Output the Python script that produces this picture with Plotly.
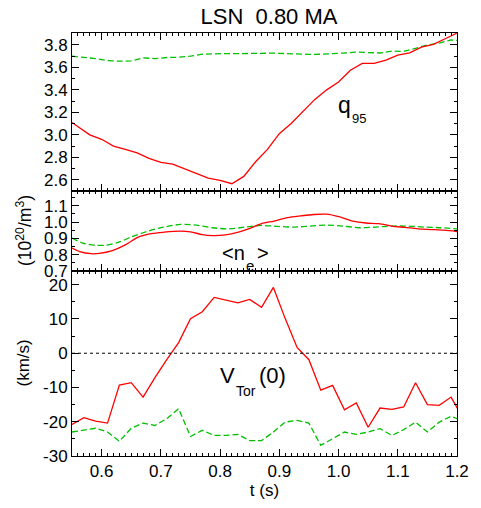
import plotly.graph_objects as go

# ---------------- data ----------------
t_q95_red = [0.55, 0.58, 0.60, 0.62, 0.64, 0.66, 0.68, 0.70, 0.72, 0.74, 0.76, 0.78, 0.80,
             0.82, 0.84, 0.86, 0.88, 0.90, 0.92, 0.94, 0.96, 0.98, 1.00, 1.02, 1.04, 1.06,
             1.08, 1.10, 1.12, 1.14, 1.16, 1.18, 1.20]
q95_red = [3.11, 3.00, 2.96, 2.90, 2.87, 2.84, 2.79, 2.755, 2.74, 2.70, 2.655, 2.615, 2.595,
           2.565, 2.63, 2.76, 2.87, 3.01, 3.10, 3.21, 3.315, 3.40, 3.47, 3.575, 3.635, 3.635,
           3.665, 3.71, 3.73, 3.78, 3.805, 3.855, 3.905]

t_q95_green = [0.55, 0.57, 0.59, 0.61, 0.63, 0.65, 0.67, 0.69, 0.71, 0.73, 0.75, 0.77, 0.79,
               0.81, 0.83, 0.85, 0.87, 0.89, 0.91, 0.93, 0.95, 0.97, 0.99, 1.01, 1.03, 1.05,
               1.07, 1.09, 1.11, 1.13, 1.15, 1.17, 1.19, 1.20]
q95_green = [3.70, 3.69, 3.678, 3.66, 3.655, 3.658, 3.685, 3.678, 3.688, 3.69, 3.70, 3.718, 3.723,
             3.723, 3.722, 3.723, 3.728, 3.727, 3.723, 3.718, 3.716, 3.717, 3.72, 3.728, 3.736, 3.73,
             3.728, 3.745, 3.742, 3.77, 3.80, 3.815, 3.845, 3.84]

t_ne_red = [0.55, 0.563, 0.582, 0.596, 0.618, 0.64, 0.662, 0.684, 0.705, 0.733, 0.75, 0.77, 0.787,
            0.809, 0.826, 0.848, 0.87, 0.891, 0.914, 0.936, 0.958, 0.98, 1.002, 1.024, 1.046,
            1.068, 1.09, 1.112, 1.134, 1.156, 1.178, 1.20]
ne_red = [0.840, 0.819, 0.806, 0.808, 0.825, 0.860, 0.908, 0.929, 0.9375, 0.944, 0.94, 0.923, 0.917,
          0.921, 0.933, 0.958, 0.990, 1.006, 1.027, 1.0375, 1.046, 1.048, 1.031, 1.006, 0.994,
          0.990, 0.975, 0.967, 0.958, 0.954, 0.950, 0.942]

t_ne_green = [0.55, 0.568, 0.59, 0.606, 0.628, 0.65, 0.678, 0.705, 0.733, 0.76, 0.787, 0.815, 0.843,
              0.87, 0.897, 0.925, 0.952, 0.98, 1.008, 1.035, 1.063, 1.09, 1.117, 1.145, 1.172, 1.20]
ne_green = [0.902, 0.871, 0.858, 0.858, 0.875, 0.908, 0.944, 0.969, 0.985, 0.981, 0.965, 0.958, 0.969,
            0.979, 0.973, 0.969, 0.975, 0.981, 0.975, 0.965, 0.969, 0.975, 0.975, 0.969, 0.965, 0.958]

t_v = [0.55, 0.57, 0.59, 0.61, 0.63, 0.65, 0.67, 0.69, 0.71, 0.73, 0.75, 0.77, 0.79, 0.81, 0.83,
       0.85, 0.87, 0.89, 0.91, 0.93, 0.95, 0.97, 0.99, 1.01, 1.03, 1.05, 1.07, 1.09, 1.11, 1.13,
       1.15, 1.17, 1.19, 1.21]
v_red = [-20.8, -18.8, -19.8, -20.4, -9.3, -8.6, -12.8, -7.1, -1.9, 3.1, 10.1, 12.1, 16.3, 15.5, 14.7,
         15.7, 13.4, 19.2, 10.1, 1.7, -1.9, -10.8, -9.4, -16.5, -14.5, -21.6, -16.0, -16.4, -15.7, -8.6,
         -15.0, -15.2, -12.8, -19.0]
v_green = [-23.0, -22.5, -21.9, -23.0, -25.7, -21.9, -20.4, -21.1, -19.1, -16.2, -24.3, -22.5, -24.0,
           -24.0, -23.7, -25.5, -25.5, -23.0, -20.1, -19.6, -20.4, -26.9, -25.0, -23.0, -23.7, -23.0,
           -22.0, -24.0, -22.3, -20.1, -23.0, -20.1, -18.4, -19.8]

x_ticks = [0.6, 0.7, 0.8, 0.9, 1.0, 1.1, 1.2]
x_ticklabels = ["0.6", "0.7", "0.8", "0.9", "1.0", "1.1", "1.2"]
q_ticks = [2.6, 2.8, 3.0, 3.2, 3.4, 3.6, 3.8]
q_ticklabels = ["2.6", "2.8", "3.0", "3.2", "3.4", "3.6", "3.8"]
ne_ticks = [0.7, 0.8, 0.9, 1.0, 1.1]
ne_ticklabels = ["0.7", "0.8", "0.9", "1.0", "1.1"]
v_ticks = [-30, -20, -10, 0, 10, 20]
v_ticklabels = ["-30", "-20", "-10", "0", "10", "20"]

title_text = "LSN  0.80 MA"

# ---------------- figure ----------------
RED = "#ff0000"
GREEN = "#00c000"
FONT = "Liberation Sans"

# page body has an 8px default margin; figure is sized to fit the window
OFF = 8
W, HT = 481 - OFF, 508 - OFF

fig = go.Figure()
fig.add_trace(go.Scatter(x=t_q95_green, y=q95_green, mode="lines", xaxis="x", yaxis="y",
                         line=dict(color=GREEN, width=1.3, dash="6px,3px")))
fig.add_trace(go.Scatter(x=t_q95_red, y=q95_red, mode="lines", xaxis="x", yaxis="y",
                         line=dict(color=RED, width=1.3)))
fig.add_trace(go.Scatter(x=t_ne_green, y=ne_green, mode="lines", xaxis="x2", yaxis="y2",
                         line=dict(color=GREEN, width=1.3, dash="6px,3px", shape="spline", smoothing=0.8)))
fig.add_trace(go.Scatter(x=t_ne_red, y=ne_red, mode="lines", xaxis="x2", yaxis="y2",
                         line=dict(color=RED, width=1.3, shape="spline", smoothing=0.8)))
fig.add_trace(go.Scatter(x=t_v, y=v_green, mode="lines", xaxis="x3", yaxis="y3",
                         line=dict(color=GREEN, width=1.3, dash="6px,3px")))
fig.add_trace(go.Scatter(x=t_v, y=v_red, mode="lines", xaxis="x3", yaxis="y3",
                         line=dict(color=RED, width=1.3)))

H = 423.0
d_bot = [0, 185 / H]
d_mid = [185 / H, 265 / H]
d_top = [265 / H, 1]

TICKFONT = dict(family=FONT, size=17, color="black")
common_x = dict(range=[0.55, 1.2], tickvals=x_ticks, ticktext=x_ticklabels,
                ticks="inside", ticklen=7, tickwidth=1, tickcolor="black",
                showline=True, linecolor="black", linewidth=1, mirror="ticks",
                showgrid=False, zeroline=False,
                minor=dict(dtick=0.01, tick0=0.5, ticks="inside", ticklen=3,
                           tickcolor="black", tickwidth=1, showgrid=False),
                tickfont=TICKFONT)
common_y = dict(ticks="inside", ticklen=7, tickwidth=1, tickcolor="black",
                showline=True, linecolor="black", linewidth=1, mirror="ticks",
                showgrid=False, zeroline=False, tickfont=TICKFONT)

fig.update_layout(
    width=W, height=HT,
    margin=dict(l=72 - OFF, r=14, t=33 - OFF, b=52, pad=0),
    paper_bgcolor="white", plot_bgcolor="white",
    showlegend=False,
    font=dict(family=FONT, color="black"),
    title=dict(text=title_text, x=(269 - OFF) / W, xanchor="center", y=1 - (16 - OFF) / HT,
               yanchor="middle", font=dict(family=FONT, size=22, color="black")),
    xaxis=dict(**common_x, domain=[0, 1], anchor="y", matches="x3", showticklabels=False),
    xaxis2=dict(**common_x, domain=[0, 1], anchor="y2", matches="x3", showticklabels=False),
    xaxis3=dict(**common_x, domain=[0, 1], anchor="y3",
                title=dict(text="t (s)", font=dict(family=FONT, size=17), standoff=0)),
    yaxis=dict(**common_y, domain=d_top, anchor="x", range=[2.5, 3.906],
               tickvals=q_ticks, ticktext=q_ticklabels,
               minor=dict(dtick=0.1, tick0=2.5, ticks="inside", ticklen=3, tickcolor="black", showgrid=False)),
    yaxis2=dict(**common_y, domain=d_mid, anchor="x2", range=[0.7, 1.19],
                tickvals=ne_ticks, ticktext=ne_ticklabels,
                minor=dict(dtick=0.05, tick0=0.7, ticks="inside", ticklen=3, tickcolor="black", showgrid=False)),
    yaxis3=dict(**common_y, domain=d_bot, anchor="x3", range=[-30, 24],
                tickvals=v_ticks, ticktext=v_ticklabels,
                minor=dict(dtick=5, tick0=0, ticks="inside", ticklen=3, tickcolor="black", showgrid=False)),
)

fig.add_shape(type="line", xref="x3 domain", yref="y3", x0=0, x1=1, y0=0, y1=0,
              line=dict(color="black", width=1, dash="dot"))


def label(text, x, y, xr, yr, size):
    fig.add_annotation(x=x, y=y, xref=xr, yref=yr, xanchor="left", yanchor="middle",
                       text=text, showarrow=False, borderpad=0,
                       font=dict(family=FONT, size=size, color="black"))


# q95
label("q", 0.998, 3.266, "x", "y", 23)
label("95", 1.0207, 3.145, "x", "y", 13)
# <n_e>
label("&lt;n", 0.801, 0.8115, "x2", "y2", 20)
label("e", 0.842, 0.735, "x2", "y2", 15)
label("&gt;", 0.861, 0.8115, "x2", "y2", 20)
# V_Tor(0)
label("V", 0.798, -6.62, "x3", "y3", 22)
label("Tor", 0.8246, -11.14, "x3", "y3", 14)
label("(0)", 0.864, -6.62, "x3", "y3", 22)

fig.add_annotation(x=0, xref="paper", y=(d_mid[0] + d_mid[1]) / 2, yref="paper",
                   xshift=-48, textangle=-90, xanchor="center", yanchor="middle",
                   text="(10<sup>20</sup>/m<sup>3</sup>)", showarrow=False,
                   font=dict(family=FONT, size=17.5, color="black"))
fig.add_annotation(x=0, xref="paper", y=(456 - 363.5) / H, yref="paper",
                   xshift=-49, textangle=-90, xanchor="center", yanchor="middle",
                   text="(km/s)", showarrow=False,
                   font=dict(family=FONT, size=17, color="black"))

fig.write_html("out.html")
